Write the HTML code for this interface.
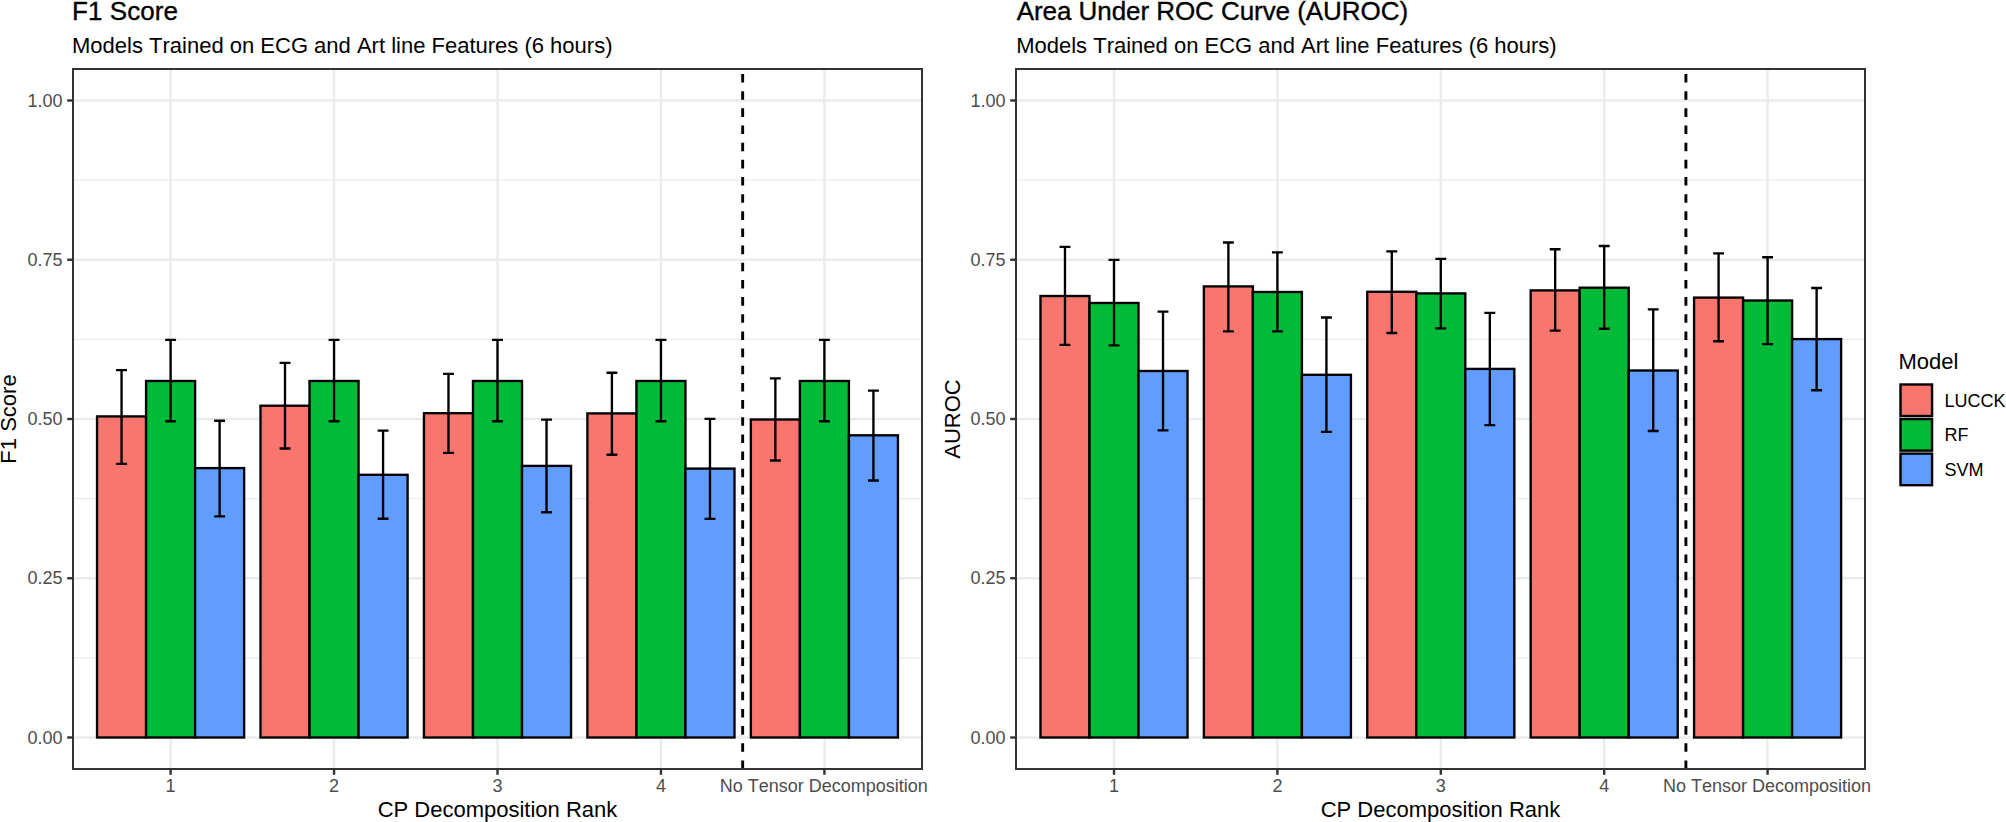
<!DOCTYPE html>
<html lang="en"><head><meta charset="utf-8"><title>F1 Score and AUROC</title>
<style>html,body{margin:0;padding:0;background:#fff}body{width:2006px;height:822px;overflow:hidden}svg{display:block}.s{font-size:18px}.t{font-size:26px;font-kerning:normal}text{white-space:pre;font-kerning:none;font-variant-ligatures:none}</style>
</head><body>
<svg width="2006" height="822" viewBox="0 0 2006 822" font-family="'Liberation Sans', Arial, Helvetica, sans-serif">
<rect width="2006" height="822" fill="#fff"/>
<g>
<clipPath id="c0"><rect x="73.0" y="69.0" width="849.00" height="700.00"/></clipPath>
<g clip-path="url(#c0)">
<line x1="73.0" x2="922.0" y1="657.88" y2="657.88" stroke="#EBEBEB" stroke-width="1.2"/>
<line x1="73.0" x2="922.0" y1="498.62" y2="498.62" stroke="#EBEBEB" stroke-width="1.2"/>
<line x1="73.0" x2="922.0" y1="339.38" y2="339.38" stroke="#EBEBEB" stroke-width="1.2"/>
<line x1="73.0" x2="922.0" y1="180.12" y2="180.12" stroke="#EBEBEB" stroke-width="1.2"/>
<line x1="73.0" x2="922.0" y1="737.50" y2="737.50" stroke="#EBEBEB" stroke-width="2.4"/>
<line x1="73.0" x2="922.0" y1="578.25" y2="578.25" stroke="#EBEBEB" stroke-width="2.4"/>
<line x1="73.0" x2="922.0" y1="419.00" y2="419.00" stroke="#EBEBEB" stroke-width="2.4"/>
<line x1="73.0" x2="922.0" y1="259.75" y2="259.75" stroke="#EBEBEB" stroke-width="2.4"/>
<line x1="73.0" x2="922.0" y1="100.50" y2="100.50" stroke="#EBEBEB" stroke-width="2.4"/>
<line x1="170.60" x2="170.60" y1="69.0" y2="769.0" stroke="#EBEBEB" stroke-width="2.4"/>
<line x1="334.05" x2="334.05" y1="69.0" y2="769.0" stroke="#EBEBEB" stroke-width="2.4"/>
<line x1="497.50" x2="497.50" y1="69.0" y2="769.0" stroke="#EBEBEB" stroke-width="2.4"/>
<line x1="660.95" x2="660.95" y1="69.0" y2="769.0" stroke="#EBEBEB" stroke-width="2.4"/>
<line x1="824.40" x2="824.40" y1="69.0" y2="769.0" stroke="#EBEBEB" stroke-width="2.4"/>
<rect x="97.05" y="416.40" width="49.03" height="321.10" fill="#F8766D" stroke="#000" stroke-width="2.35"/>
<rect x="146.08" y="381.00" width="49.03" height="356.50" fill="#00BA38" stroke="#000" stroke-width="2.35"/>
<rect x="195.12" y="468.10" width="49.03" height="269.40" fill="#619CFF" stroke="#000" stroke-width="2.35"/>
<rect x="260.50" y="405.70" width="49.03" height="331.80" fill="#F8766D" stroke="#000" stroke-width="2.35"/>
<rect x="309.53" y="381.00" width="49.03" height="356.50" fill="#00BA38" stroke="#000" stroke-width="2.35"/>
<rect x="358.57" y="474.80" width="49.03" height="262.70" fill="#619CFF" stroke="#000" stroke-width="2.35"/>
<rect x="423.95" y="413.20" width="49.03" height="324.30" fill="#F8766D" stroke="#000" stroke-width="2.35"/>
<rect x="472.98" y="381.00" width="49.03" height="356.50" fill="#00BA38" stroke="#000" stroke-width="2.35"/>
<rect x="522.02" y="465.90" width="49.03" height="271.60" fill="#619CFF" stroke="#000" stroke-width="2.35"/>
<rect x="587.40" y="413.40" width="49.03" height="324.10" fill="#F8766D" stroke="#000" stroke-width="2.35"/>
<rect x="636.43" y="381.00" width="49.03" height="356.50" fill="#00BA38" stroke="#000" stroke-width="2.35"/>
<rect x="685.47" y="468.60" width="49.03" height="268.90" fill="#619CFF" stroke="#000" stroke-width="2.35"/>
<rect x="750.85" y="419.50" width="49.03" height="318.00" fill="#F8766D" stroke="#000" stroke-width="2.35"/>
<rect x="799.88" y="381.00" width="49.03" height="356.50" fill="#00BA38" stroke="#000" stroke-width="2.35"/>
<rect x="848.92" y="435.30" width="49.03" height="302.20" fill="#619CFF" stroke="#000" stroke-width="2.35"/>
<path d="M116.12 370.10H127.01M121.56 370.10V463.80M116.12 463.80H127.01" fill="none" stroke="#000" stroke-width="2.35"/>
<path d="M165.15 339.80H176.05M170.60 339.80V421.20M165.15 421.20H176.05" fill="none" stroke="#000" stroke-width="2.35"/>
<path d="M214.19 420.70H225.08M219.63 420.70V516.30M214.19 516.30H225.08" fill="none" stroke="#000" stroke-width="2.35"/>
<path d="M279.57 362.80H290.46M285.01 362.80V448.50M279.57 448.50H290.46" fill="none" stroke="#000" stroke-width="2.35"/>
<path d="M328.60 339.80H339.50M334.05 339.80V421.20M328.60 421.20H339.50" fill="none" stroke="#000" stroke-width="2.35"/>
<path d="M377.64 430.60H388.53M383.08 430.60V518.70M377.64 518.70H388.53" fill="none" stroke="#000" stroke-width="2.35"/>
<path d="M443.02 373.80H453.91M448.47 373.80V452.80M443.02 452.80H453.91" fill="none" stroke="#000" stroke-width="2.35"/>
<path d="M492.05 339.80H502.95M497.50 339.80V421.20M492.05 421.20H502.95" fill="none" stroke="#000" stroke-width="2.35"/>
<path d="M541.09 419.60H551.98M546.53 419.60V512.20M541.09 512.20H551.98" fill="none" stroke="#000" stroke-width="2.35"/>
<path d="M606.47 372.70H617.36M611.91 372.70V454.70M606.47 454.70H617.36" fill="none" stroke="#000" stroke-width="2.35"/>
<path d="M655.50 339.80H666.40M660.95 339.80V421.20M655.50 421.20H666.40" fill="none" stroke="#000" stroke-width="2.35"/>
<path d="M704.54 418.80H715.43M709.98 418.80V518.90M704.54 518.90H715.43" fill="none" stroke="#000" stroke-width="2.35"/>
<path d="M769.92 378.30H780.81M775.37 378.30V460.50M769.92 460.50H780.81" fill="none" stroke="#000" stroke-width="2.35"/>
<path d="M818.95 339.80H829.85M824.40 339.80V421.20M818.95 421.20H829.85" fill="none" stroke="#000" stroke-width="2.35"/>
<path d="M867.99 390.60H878.88M873.43 390.60V480.50M867.99 480.50H878.88" fill="none" stroke="#000" stroke-width="2.35"/>
<line x1="742.67" x2="742.67" y1="769.0" y2="69.0" stroke="#000" stroke-width="2.9" stroke-dasharray="8.58 8.58"/>
</g>
<rect x="73.0" y="69.0" width="849.00" height="700.00" fill="none" stroke="#333333" stroke-width="2"/>
<line x1="67.20" x2="73.00" y1="737.50" y2="737.50" stroke="#333333" stroke-width="2.4"/>
<text x="62.60" y="743.70" class="s" fill="#4D4D4D" text-anchor="end">0.00</text>
<line x1="67.20" x2="73.00" y1="578.25" y2="578.25" stroke="#333333" stroke-width="2.4"/>
<text x="62.60" y="584.45" class="s" fill="#4D4D4D" text-anchor="end">0.25</text>
<line x1="67.20" x2="73.00" y1="419.00" y2="419.00" stroke="#333333" stroke-width="2.4"/>
<text x="62.60" y="425.20" class="s" fill="#4D4D4D" text-anchor="end">0.50</text>
<line x1="67.20" x2="73.00" y1="259.75" y2="259.75" stroke="#333333" stroke-width="2.4"/>
<text x="62.60" y="265.95" class="s" fill="#4D4D4D" text-anchor="end">0.75</text>
<line x1="67.20" x2="73.00" y1="100.50" y2="100.50" stroke="#333333" stroke-width="2.4"/>
<text x="62.60" y="106.70" class="s" fill="#4D4D4D" text-anchor="end">1.00</text>
<line x1="170.60" x2="170.60" y1="769.00" y2="774.80" stroke="#333333" stroke-width="2.4"/>
<text x="170.60" y="792.3" class="s" fill="#4D4D4D" text-anchor="middle">1</text>
<line x1="334.05" x2="334.05" y1="769.00" y2="774.80" stroke="#333333" stroke-width="2.4"/>
<text x="334.05" y="792.3" class="s" fill="#4D4D4D" text-anchor="middle">2</text>
<line x1="497.50" x2="497.50" y1="769.00" y2="774.80" stroke="#333333" stroke-width="2.4"/>
<text x="497.50" y="792.3" class="s" fill="#4D4D4D" text-anchor="middle">3</text>
<line x1="660.95" x2="660.95" y1="769.00" y2="774.80" stroke="#333333" stroke-width="2.4"/>
<text x="660.95" y="792.3" class="s" fill="#4D4D4D" text-anchor="middle">4</text>
<line x1="824.40" x2="824.40" y1="769.00" y2="774.80" stroke="#333333" stroke-width="2.4"/>
<text x="823.80" y="792.3" class="s" fill="#4D4D4D" text-anchor="middle">No Tensor Decomposition</text>
<text x="72.00" y="19.6" class="t" letter-spacing="0.08" stroke="#000" stroke-width="0.35" fill="#000">F1 Score</text>
<text x="72.00" y="53" font-size="22" fill="#000">Models Trained on ECG and Art line Features (6 hours)</text>
<text x="497.50" y="817.0" font-size="22" fill="#000" text-anchor="middle">CP Decomposition Rank</text>
<text transform="translate(16.40 419.00) rotate(-90)" font-size="22" fill="#000" text-anchor="middle">F1 Score</text>
</g>
<g>
<clipPath id="c1"><rect x="1016.0" y="69.0" width="849.00" height="700.00"/></clipPath>
<g clip-path="url(#c1)">
<line x1="1016.0" x2="1865.0" y1="657.88" y2="657.88" stroke="#EBEBEB" stroke-width="1.2"/>
<line x1="1016.0" x2="1865.0" y1="498.62" y2="498.62" stroke="#EBEBEB" stroke-width="1.2"/>
<line x1="1016.0" x2="1865.0" y1="339.38" y2="339.38" stroke="#EBEBEB" stroke-width="1.2"/>
<line x1="1016.0" x2="1865.0" y1="180.12" y2="180.12" stroke="#EBEBEB" stroke-width="1.2"/>
<line x1="1016.0" x2="1865.0" y1="737.50" y2="737.50" stroke="#EBEBEB" stroke-width="2.4"/>
<line x1="1016.0" x2="1865.0" y1="578.25" y2="578.25" stroke="#EBEBEB" stroke-width="2.4"/>
<line x1="1016.0" x2="1865.0" y1="419.00" y2="419.00" stroke="#EBEBEB" stroke-width="2.4"/>
<line x1="1016.0" x2="1865.0" y1="259.75" y2="259.75" stroke="#EBEBEB" stroke-width="2.4"/>
<line x1="1016.0" x2="1865.0" y1="100.50" y2="100.50" stroke="#EBEBEB" stroke-width="2.4"/>
<line x1="1114.00" x2="1114.00" y1="69.0" y2="769.0" stroke="#EBEBEB" stroke-width="2.4"/>
<line x1="1277.40" x2="1277.40" y1="69.0" y2="769.0" stroke="#EBEBEB" stroke-width="2.4"/>
<line x1="1440.80" x2="1440.80" y1="69.0" y2="769.0" stroke="#EBEBEB" stroke-width="2.4"/>
<line x1="1604.20" x2="1604.20" y1="69.0" y2="769.0" stroke="#EBEBEB" stroke-width="2.4"/>
<line x1="1767.60" x2="1767.60" y1="69.0" y2="769.0" stroke="#EBEBEB" stroke-width="2.4"/>
<rect x="1040.47" y="296.00" width="49.02" height="441.50" fill="#F8766D" stroke="#000" stroke-width="2.35"/>
<rect x="1089.49" y="303.00" width="49.02" height="434.50" fill="#00BA38" stroke="#000" stroke-width="2.35"/>
<rect x="1138.51" y="371.00" width="49.02" height="366.50" fill="#619CFF" stroke="#000" stroke-width="2.35"/>
<rect x="1203.87" y="286.40" width="49.02" height="451.10" fill="#F8766D" stroke="#000" stroke-width="2.35"/>
<rect x="1252.89" y="292.00" width="49.02" height="445.50" fill="#00BA38" stroke="#000" stroke-width="2.35"/>
<rect x="1301.91" y="374.80" width="49.02" height="362.70" fill="#619CFF" stroke="#000" stroke-width="2.35"/>
<rect x="1367.27" y="291.80" width="49.02" height="445.70" fill="#F8766D" stroke="#000" stroke-width="2.35"/>
<rect x="1416.29" y="293.40" width="49.02" height="444.10" fill="#00BA38" stroke="#000" stroke-width="2.35"/>
<rect x="1465.31" y="368.90" width="49.02" height="368.60" fill="#619CFF" stroke="#000" stroke-width="2.35"/>
<rect x="1530.67" y="290.40" width="49.02" height="447.10" fill="#F8766D" stroke="#000" stroke-width="2.35"/>
<rect x="1579.69" y="287.70" width="49.02" height="449.80" fill="#00BA38" stroke="#000" stroke-width="2.35"/>
<rect x="1628.71" y="370.50" width="49.02" height="367.00" fill="#619CFF" stroke="#000" stroke-width="2.35"/>
<rect x="1694.07" y="297.60" width="49.02" height="439.90" fill="#F8766D" stroke="#000" stroke-width="2.35"/>
<rect x="1743.09" y="300.50" width="49.02" height="437.00" fill="#00BA38" stroke="#000" stroke-width="2.35"/>
<rect x="1792.11" y="339.10" width="49.02" height="398.40" fill="#619CFF" stroke="#000" stroke-width="2.35"/>
<path d="M1059.53 246.80H1070.43M1064.98 246.80V344.80M1059.53 344.80H1070.43" fill="none" stroke="#000" stroke-width="2.35"/>
<path d="M1108.55 259.90H1119.45M1114.00 259.90V345.30M1108.55 345.30H1119.45" fill="none" stroke="#000" stroke-width="2.35"/>
<path d="M1157.57 311.60H1168.47M1163.02 311.60V430.40M1157.57 430.40H1168.47" fill="none" stroke="#000" stroke-width="2.35"/>
<path d="M1222.93 242.50H1233.83M1228.38 242.50V331.40M1222.93 331.40H1233.83" fill="none" stroke="#000" stroke-width="2.35"/>
<path d="M1271.95 252.40H1282.85M1277.40 252.40V331.40M1271.95 331.40H1282.85" fill="none" stroke="#000" stroke-width="2.35"/>
<path d="M1320.97 317.50H1331.87M1326.42 317.50V431.80M1320.97 431.80H1331.87" fill="none" stroke="#000" stroke-width="2.35"/>
<path d="M1386.33 251.30H1397.23M1391.78 251.30V333.00M1386.33 333.00H1397.23" fill="none" stroke="#000" stroke-width="2.35"/>
<path d="M1435.35 258.80H1446.25M1440.80 258.80V328.40M1435.35 328.40H1446.25" fill="none" stroke="#000" stroke-width="2.35"/>
<path d="M1484.37 312.90H1495.27M1489.82 312.90V425.10M1484.37 425.10H1495.27" fill="none" stroke="#000" stroke-width="2.35"/>
<path d="M1549.73 249.20H1560.63M1555.18 249.20V330.60M1549.73 330.60H1560.63" fill="none" stroke="#000" stroke-width="2.35"/>
<path d="M1598.75 246.00H1609.65M1604.20 246.00V328.70M1598.75 328.70H1609.65" fill="none" stroke="#000" stroke-width="2.35"/>
<path d="M1647.77 309.40H1658.67M1653.22 309.40V431.00M1647.77 431.00H1658.67" fill="none" stroke="#000" stroke-width="2.35"/>
<path d="M1713.13 253.40H1724.03M1718.58 253.40V341.20M1713.13 341.20H1724.03" fill="none" stroke="#000" stroke-width="2.35"/>
<path d="M1762.15 257.20H1773.05M1767.60 257.20V344.10M1762.15 344.10H1773.05" fill="none" stroke="#000" stroke-width="2.35"/>
<path d="M1811.17 288.00H1822.07M1816.62 288.00V390.20M1811.17 390.20H1822.07" fill="none" stroke="#000" stroke-width="2.35"/>
<line x1="1685.90" x2="1685.90" y1="769.0" y2="69.0" stroke="#000" stroke-width="2.9" stroke-dasharray="8.58 8.58"/>
</g>
<rect x="1016.0" y="69.0" width="849.00" height="700.00" fill="none" stroke="#333333" stroke-width="2"/>
<line x1="1010.20" x2="1016.00" y1="737.50" y2="737.50" stroke="#333333" stroke-width="2.4"/>
<text x="1005.60" y="743.70" class="s" fill="#4D4D4D" text-anchor="end">0.00</text>
<line x1="1010.20" x2="1016.00" y1="578.25" y2="578.25" stroke="#333333" stroke-width="2.4"/>
<text x="1005.60" y="584.45" class="s" fill="#4D4D4D" text-anchor="end">0.25</text>
<line x1="1010.20" x2="1016.00" y1="419.00" y2="419.00" stroke="#333333" stroke-width="2.4"/>
<text x="1005.60" y="425.20" class="s" fill="#4D4D4D" text-anchor="end">0.50</text>
<line x1="1010.20" x2="1016.00" y1="259.75" y2="259.75" stroke="#333333" stroke-width="2.4"/>
<text x="1005.60" y="265.95" class="s" fill="#4D4D4D" text-anchor="end">0.75</text>
<line x1="1010.20" x2="1016.00" y1="100.50" y2="100.50" stroke="#333333" stroke-width="2.4"/>
<text x="1005.60" y="106.70" class="s" fill="#4D4D4D" text-anchor="end">1.00</text>
<line x1="1114.00" x2="1114.00" y1="769.00" y2="774.80" stroke="#333333" stroke-width="2.4"/>
<text x="1114.00" y="792.3" class="s" fill="#4D4D4D" text-anchor="middle">1</text>
<line x1="1277.40" x2="1277.40" y1="769.00" y2="774.80" stroke="#333333" stroke-width="2.4"/>
<text x="1277.40" y="792.3" class="s" fill="#4D4D4D" text-anchor="middle">2</text>
<line x1="1440.80" x2="1440.80" y1="769.00" y2="774.80" stroke="#333333" stroke-width="2.4"/>
<text x="1440.80" y="792.3" class="s" fill="#4D4D4D" text-anchor="middle">3</text>
<line x1="1604.20" x2="1604.20" y1="769.00" y2="774.80" stroke="#333333" stroke-width="2.4"/>
<text x="1604.20" y="792.3" class="s" fill="#4D4D4D" text-anchor="middle">4</text>
<line x1="1767.60" x2="1767.60" y1="769.00" y2="774.80" stroke="#333333" stroke-width="2.4"/>
<text x="1767.00" y="792.3" class="s" fill="#4D4D4D" text-anchor="middle">No Tensor Decomposition</text>
<text x="1016.70" y="19.6" class="t" letter-spacing="-0.06" stroke="#000" stroke-width="0.35" fill="#000">Area Under ROC Curve (AUROC)</text>
<text x="1016.20" y="53" font-size="22" fill="#000">Models Trained on ECG and Art line Features (6 hours)</text>
<text x="1440.50" y="817.0" font-size="22" fill="#000" text-anchor="middle">CP Decomposition Rank</text>
<text transform="translate(960.40 419.00) rotate(-90)" font-size="22" fill="#000" text-anchor="middle">AUROC</text>
</g>
<text x="1898.4" y="368.8" font-size="22" fill="#000">Model</text>
<rect x="1900.50" y="384.50" width="31.56" height="31.56" fill="#F8766D" stroke="#000" stroke-width="2.4"/>
<text x="1944.56" y="406.58" class="s" fill="#000">LUCCK</text>
<rect x="1900.50" y="419.06" width="31.56" height="31.56" fill="#00BA38" stroke="#000" stroke-width="2.4"/>
<text x="1944.56" y="441.14" class="s" fill="#000">RF</text>
<rect x="1900.50" y="453.62" width="31.56" height="31.56" fill="#619CFF" stroke="#000" stroke-width="2.4"/>
<text x="1944.56" y="475.70" class="s" fill="#000">SVM</text>
</svg>
</body></html>
